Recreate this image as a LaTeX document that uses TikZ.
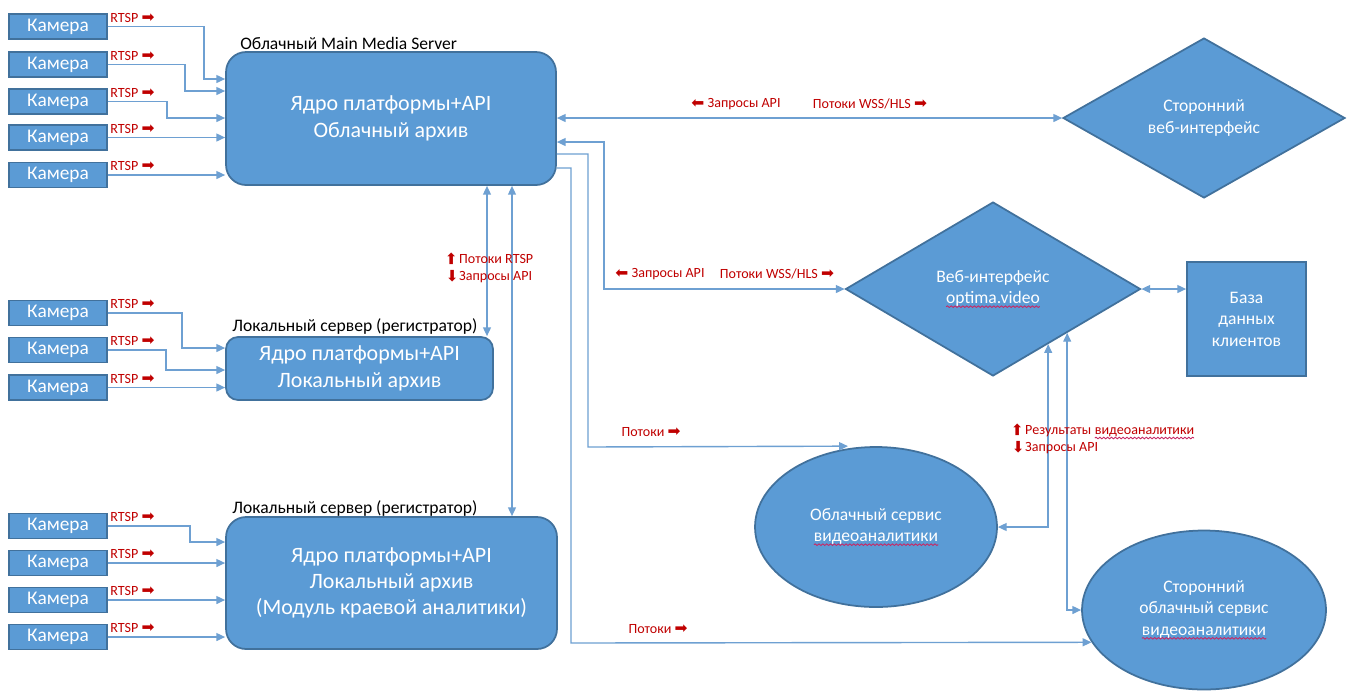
\documentclass[tikz,border=0pt]{standalone}
\usepackage{fontspec}
\setmainfont{Carlito}
\newfontfamily\symfont{DejaVu Sans}
\usepackage{graphicx}
\usetikzlibrary{shapes.geometric,arrows.meta,decorations.pathmorphing}
\definecolor{boxblue}{RGB}{91,155,213}
\definecolor{edgeblue}{RGB}{65,113,156}
\definecolor{lineblue}{RGB}{110,160,210}
\definecolor{lblred}{RGB}{192,0,0}
\definecolor{spellred}{RGB}{200,40,100}
\newcommand{\arR}{{\symfont\scalebox{1.1}{➡}}}
\newcommand{\arL}{\rotatebox[origin=c]{180}{\arR}}
\newcommand{\arU}{\rotatebox[origin=c]{90}{\arR}}
\newcommand{\arD}{\rotatebox[origin=c]{-90}{\arR}}
\tikzset{spellline/.style={draw=spellred, line width=0.5pt, decorate, decoration={snake, amplitude=0.45pt, segment length=2.2pt}},
 spellnode/.style={shape=rectangle, draw=none, fill=none, inner sep=0pt, outer sep=0pt, minimum width=0pt, minimum height=0pt, rounded corners=0pt}}
\newcommand{\spell}[1]{\tikz[baseline=(sp.base)]{\node[spellnode](sp){#1};\draw[spellline]([yshift=-1.8pt]sp.base west)--([yshift=-1.8pt]sp.base east);}}
\begin{document}
\begin{tikzpicture}[x=0.02cm,y=-0.02cm,
 cam/.style={rectangle, fill=boxblue, draw=edgeblue, line width=0.8pt, minimum width=1.96cm, minimum height=0.5cm, inner sep=0pt, text=white, font=\fontsize{11}{13}\selectfont},
 srv/.style={rectangle, rounded corners=0.4cm, fill=boxblue, draw=edgeblue, line width=1pt, inner sep=0pt, text=white, align=center, font=\fontsize{12.5}{15}\selectfont},
 shp/.style={fill=boxblue, draw=edgeblue, line width=1pt, inner sep=0pt, text=white, align=center, font=\fontsize{10}{12.2}\selectfont},
 conn/.style={draw=lineblue, line width=0.8pt},
 arr/.style={-{Triangle[length=5pt,width=4.5pt]}},
 arrtwo/.style={{Triangle[length=5pt,width=4.5pt]}-{Triangle[length=5pt,width=4.5pt]}},
 lbl/.style={text=lblred, font=\fontsize{8}{9.6}\selectfont, inner sep=0pt},
 captxt/.style={text=black, font=\fontsize{10}{12}\selectfont, inner sep=0pt, anchor=west}
]
\fill[white] (0,0) rectangle (1352,691);
\useasboundingbox (0,0) rectangle (1352,691);

% servers
\node[srv, minimum width=6.6cm, minimum height=2.66cm] (main) at (391,118.5) {Ядро платформы+API\\Облачный архив};
\node[srv, rounded corners=0.24cm, minimum width=5.34cm, minimum height=1.26cm] (loc1) at (359.5,368.5) {Ядро платформы+API\\Локальный архив};
\node[srv, minimum width=6.62cm, minimum height=2.64cm] (loc2) at (391.5,583) {Ядро платформы+API\\Локальный архив\\(Модуль краевой аналитики)};

\node[captxt] (capm) at (240,43) {Облачный Main Media Server};
\node[captxt] (capl1) at (232,326) {Локальный сервер (регистратор)};
\node[captxt] (capl2) at (232,508) {Локальный сервер (регистратор)};

% cameras
\foreach \n/\y in {1/26.5,2/64.5,3/101.5,4/137.5,5/175}{
  \node[cam] (a\n) at (58,\y) {Камера};
  \node[lbl, anchor=west] (ra\n) at (110,\y-9) {RTSP \arR};
}
\foreach \n/\y in {1/313,2/350,3/387.5}{
  \node[cam] (b\n) at (58,\y) {Камера};
  \node[lbl, anchor=west] (rb\n) at (110,\y-9) {RTSP \arR};
}
\foreach \n/\y in {1/526,2/563,3/600,4/637}{
  \node[cam] (g\n) at (58,\y) {Камера};
  \node[lbl, anchor=west] (rg\n) at (110,\y-9) {RTSP \arR};
}

\draw[conn,arr] (a1.east) -| (204,79) -- (main.west |- 0,79);
\draw[conn,arr] (a2.east) -| (185,91) -- (main.west |- 0,91);
\draw[conn,arr] (a3.east) -| (167,118) -- (main.west |- 0,118);
\draw[conn,arr] (a4.east) -- (main.west |- a4.east);
\draw[conn,arr] (a5.east) -- (main.west |- a5.east);

\draw[conn,arr] (b1.east) -| (182,348) -- (loc1.west |- 0,348);
\draw[conn,arr] (b2.east) -| (166,370) -- (loc1.west |- 0,370);
\draw[conn,arr] (b3.east) -- (loc1.west |- b3.east);

\draw[conn,arr] (g1.east) -| (190,542) -- (loc2.west |- 0,542);
\draw[conn,arr] (g2.east) -- (loc2.west |- g2.east);
\draw[conn,arr] (g3.east) -- (loc2.west |- g3.east);
\draw[conn,arr] (g4.east) -- (loc2.west |- g4.east);

% right-side shapes
\node[shp, diamond, minimum width=5.64cm, minimum height=3.2cm] (d1) at (1204,118) {Сторонний\\веб-интерфейс};
\node[shp, diamond, minimum width=5.9cm, minimum height=3.48cm] (d2) at (993,289) {Веб-интерфейс\\\spell{optima.video}};
\node[shp, rectangle, minimum width=2.38cm, minimum height=2.28cm] (db) at (1246.5,319) {База\\данных\\клиентов};
\node[shp, ellipse, minimum width=4.84cm, minimum height=3.2cm] (e1) at (876,527) {Облачный сервис\\\spell{видеоаналитики}};
\node[shp, ellipse, minimum width=4.88cm, minimum height=3.18cm] (e2) at (1204,610) {Сторонний\\облачный сервис\\\spell{видеоаналитики}};

% vertical server links
\draw[conn,arrtwo] (main.south -| 487,0) -- (loc1.north -| 487,0);
\draw[conn,arrtwo] (main.south -| 512,0) -- (loc2.north -| 512,0);
\node[lbl, anchor=west, align=left] (lrtsp) at (447,268) {\arU\ Потоки RTSP\\\arD\ Запросы API};

% main to right
\draw[conn,arrtwo] (main.east |- 0,118) -- (d1.west);
\node[lbl] (q1) at (736,104) {\arL\ Запросы API};
\node[lbl] (q2) at (870,104) {Потоки WSS/HLS \arR};

\draw[conn,arrtwo] (main.east |- 0,142) -| (604,289) -- (d2.west);
\node[lbl] (q3) at (660,274) {\arL\ Запросы API};
\node[lbl] (q4) at (777,274) {Потоки WSS/HLS \arR};

\draw[conn,arr] (main.east |- 0,154) -| (588,447) -- (e1.north -| 848,0);
\node[lbl] (q5) at (651,432) {Потоки \arR};

\draw[conn,arr] (main.east |- 0,168) -| (571,643) -- (e2.196);
\node[lbl] (q6) at (658,629) {Потоки \arR};

% web interface links
\draw[conn,arrtwo] (d2.-45) -- (d2.-45 |- e1.east) -- (e1.east);
\draw[conn,arrtwo] (d2.south east) -- (d2.south east |- e2.west) -- (e2.west);
\draw[conn,arrtwo] (d2.east) -- (db.west |- d2.east);
\node[lbl, anchor=west, align=left] (lres) at (1013,439) {\arU\ Результаты \spell{видеоаналитики}\\\arD\ Запросы API};
\end{tikzpicture}
\end{document}
